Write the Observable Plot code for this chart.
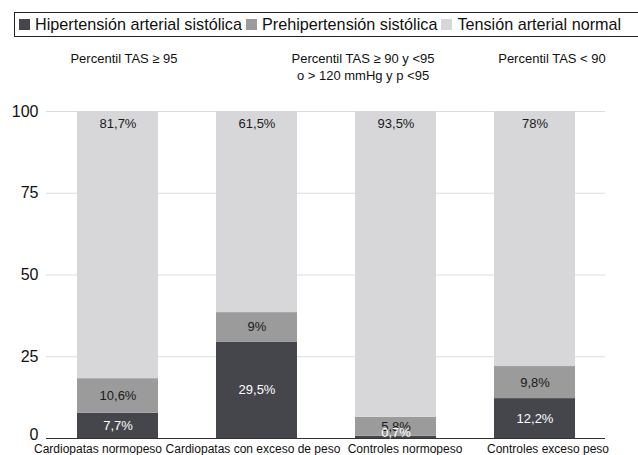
<!DOCTYPE html>
<html><head><meta charset="utf-8">
<script src="https://cdn.jsdelivr.net/npm/d3@7"></script>
<script src="https://cdn.jsdelivr.net/npm/@observablehq/plot@0.6"></script>
<style>
body{margin:0;background:#fff;font-family:"Liberation Sans",Arial,sans-serif;}
#wrap{position:relative;width:638px;height:455px;overflow:hidden;}
#legend{position:absolute;left:14px;top:12px;width:640px;height:25px;border:1px solid #222;box-sizing:border-box;display:flex;align-items:center;font-size:16.2px;color:#111;white-space:nowrap;}
#legend .sw{display:inline-block;width:11px;height:11px;margin:0 5px 0 4px;}
.ann{position:absolute;font-size:13px;color:#111;text-align:center;line-height:17px;transform:translateX(-50%);white-space:nowrap;}
#chart{position:absolute;left:0;top:0;}
</style></head>
<body><div id="wrap"><div id="legend"></div><div id="chart"></div></div>
<script>
const categories = ["Cardiopatas normopeso","Cardiopatas con exceso de peso","Controles normopeso","Controles exceso peso"];
const hta = [7.7, 29.5, 0.7, 12.2];
const prehta = [10.6, 9, 5.8, 9.8];
const normal = [81.7, 61.5, 93.5, 78];
const seriesNames = ["Hipertensión arterial sistólica","Prehipertensión sistólica","Tensión arterial normal"];
const seriesColors = ["#45464b","#9b9b9c","#d7d7d9"];
const annotations = [["Percentil TAS ≥ 95"],["Percentil TAS ≥ 90 y <95","o > 120 mmHg y p <95"],["Percentil TAS < 90"]];
const yTicks = [0,25,50,75,100];

const fmt = v => String(v).replace(".", ",") + "%";
const rows = [];
categories.forEach((c,i)=>{
  const vals=[hta[i],prehta[i],normal[i]];
  let base=0;
  vals.forEach((v,k)=>{
    rows.push({cat:c, serie:seriesNames[k], value:v, y1:base, y2:base+v, mid:base+v/2, k});
    base+=v;
  });
});

const legend=document.getElementById("legend");
seriesNames.forEach((s,k)=>{
  const sw=document.createElement("span");sw.className="sw";sw.style.background=seriesColors[k];
  legend.appendChild(sw);
  const t=document.createElement("span");t.textContent=s;legend.appendChild(t);
});
const annX=[124,363,552];
annotations.forEach((lines,i)=>{
  const d=document.createElement("div");d.className="ann";
  d.style.left=annX[i]+"px";d.style.top="50px";
  d.innerHTML=lines.join("<br>");
  document.getElementById("wrap").appendChild(d);
});

// horizontal nudges of the category labels (style only)
const labelDx=[-20,-4,9,13];
const catLabels = categories.map((c,i)=>({cat:c,i}));

const chart = Plot.plot({
  width:638, height:455,
  marginTop:111, marginBottom:17, marginLeft:46, marginRight:33,
  style:{fontFamily:"Liberation Sans, Arial, sans-serif", background:"transparent"},
  x:{domain:categories, paddingInner:0.42, paddingOuter:0.21, label:null, axis:null},
  y:{domain:[0,100], label:null},
  color:{domain:seriesNames, range:seriesColors},
  marks:[
    Plot.gridY(yTicks,{stroke:"#dcdcdc", strokeOpacity:1}),
    Plot.barY(rows,{x:"cat", y1:"y1", y2:"y2", fill:"serie"}),
    Plot.ruleY([0],{stroke:"#333", strokeWidth:1.2}),
    Plot.text(rows.filter(d=>d.k===1),{x:"cat", y:"mid", text:d=>fmt(d.value), fill:"#1a1a1a", fontSize:13}),
    Plot.text(rows.filter(d=>d.k===0 && d.value>=2),{x:"cat", y:"mid", text:d=>fmt(d.value), fill:"#fff", fontSize:13}),
    Plot.text(rows.filter(d=>d.k===0 && d.value<2),{x:"cat", y:"mid", dy:-5, text:d=>fmt(d.value), fill:"#fff", fontSize:13}),
    Plot.text(rows.filter(d=>d.k===2),{x:"cat", y:"y2", dy:12, text:d=>fmt(d.value), fill:"#1a1a1a", fontSize:13}),
    Plot.axisY(yTicks.filter(t=>t>0),{tickSize:0, tickPadding:8, fontSize:16, fill:"#111", label:null}),
    Plot.axisY(yTicks.filter(t=>t===0),{tickSize:0, tickPadding:8, dy:-4, fontSize:16, fill:"#111", label:null}),
    ...catLabels.map(d=>Plot.text([d],{x:"cat", frameAnchor:"bottom", dy:14, dx:labelDx[d.i], text:"cat", fontSize:12, fill:"#111", lineAnchor:"bottom"}))
  ]
});
document.getElementById("chart").appendChild(chart);
</script></body></html>
